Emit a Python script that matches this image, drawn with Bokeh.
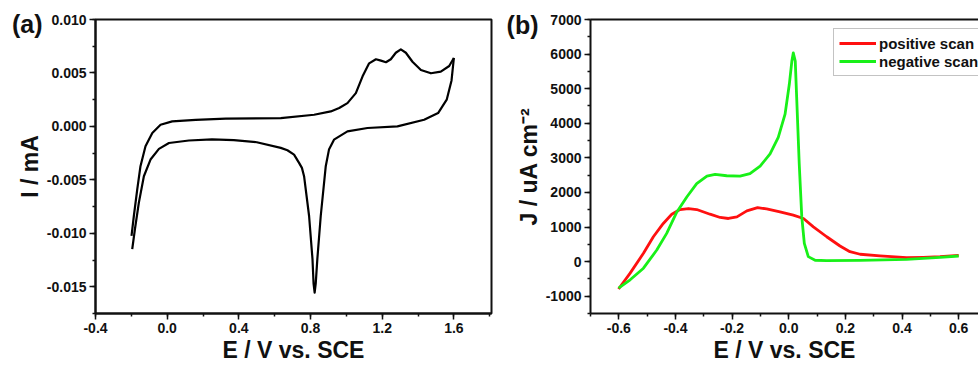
from bokeh.plotting import figure
from bokeh.layouts import row
from bokeh.models import (Range1d, FixedTicker, NumeralTickFormatter, Legend,
                          LegendItem, LinearAxis, CustomJSTickFormatter)
from bokeh.embed import file_html
from bokeh.resources import INLINE

# ---------------- data: panel (a) CV loop ----------------
a_fwd_E = [-0.199, -0.186, -0.167, -0.149, -0.121, -0.083, -0.037, 0.028, 0.159, 0.327,
           0.634, 0.820, 0.913, 0.960, 1.006, 1.053, 1.090, 1.127, 1.165, 1.193, 1.221,
           1.248, 1.276, 1.304, 1.332, 1.369, 1.416, 1.472, 1.527, 1.574, 1.600]
a_fwd_I = [-0.01024, -0.00838, -0.00589, -0.00372, -0.00186, -0.00061, 0.00016, 0.00047, 0.00062, 0.00072,
           0.00078, 0.00109, 0.0014, 0.00172, 0.00218, 0.00311, 0.00466, 0.0059, 0.00628, 0.00615, 0.006,
           0.00628, 0.00689, 0.00721, 0.00689, 0.00605, 0.00528, 0.00497, 0.00512, 0.00565, 0.0064]
a_rev_E = [1.600, 1.587, 1.560, 1.512, 1.434, 1.285, 1.118, 1.006, 0.931, 0.903, 0.885, 0.857,
           0.838, 0.829, 0.823, 0.817, 0.811, 0.792, 0.764, 0.752, 0.736, 0.708, 0.671, 0.634,
           0.500, 0.372, 0.250, 0.121, 0.010, -0.046, -0.093, -0.130, -0.158, -0.180, -0.195]
a_rev_I = [0.0064, 0.0043, 0.0025, 0.00125, 0.00062, 0.0, -0.00015, -0.00047, -0.00124, -0.00217, -0.00372, -0.00838,
           -0.01241, -0.0147, -0.01555, -0.0147, -0.01241, -0.00838, -0.00466, -0.00388, -0.00341, -0.00264, -0.00223, -0.00201,
           -0.00148, -0.00128, -0.00122, -0.00132, -0.00155, -0.0021, -0.0031, -0.00466, -0.00713, -0.00962, -0.01148]

# ---------------- data: panel (b) ----------------
pos_E = [-0.601, -0.560, -0.513, -0.478, -0.443, -0.413, -0.384, -0.354, -0.325, -0.278, -0.242,
         -0.213, -0.183, -0.148, -0.110, -0.078, -0.031, 0.016, 0.052, 0.087, 0.134, 0.181,
         0.216, 0.252, 0.322, 0.416, 0.475, 0.534, 0.600]
pos_J = [-793, -333, 241, 719, 1104, 1371, 1506, 1535, 1506, 1371, 1276,
         1247, 1293, 1466, 1560, 1523, 1437, 1342, 1247, 1006, 719, 451,
         287, 213, 164, 115, 125, 144, 182]
neg_E = [-0.601, -0.560, -0.513, -0.466, -0.431, -0.395, -0.360, -0.325, -0.289, -0.260, -0.219,
         -0.172, -0.137, -0.101, -0.066, -0.037, -0.013, 0.002, 0.011, 0.016, 0.023, 0.028,
         0.037, 0.046, 0.055, 0.069, 0.093, 0.134, 0.252, 0.416, 0.534, 0.600]
neg_J = [-765, -526, -190, 336, 816, 1437, 1868, 2253, 2472, 2520, 2483,
         2472, 2541, 2760, 3115, 3593, 4265, 5127, 5797, 6035, 5797, 4742,
         2828, 1293, 529, 144, 40, 30, 35, 67, 125, 163]

a_xticks = [-0.4, 0.0, 0.4, 0.8, 1.2, 1.6]
a_yticks = [-0.015, -0.010, -0.005, 0.0, 0.005, 0.010]
b_xticks = [-0.6, -0.4, -0.2, 0.0, 0.2, 0.4, 0.6]
b_yticks = [-1000, 0, 1000, 2000, 3000, 4000, 5000, 6000, 7000]
legend_labels = ["positive scan", "negative scan"]
panel_tags = ["(a)", "(b)"]

FONT = "Liberation Sans"
INK = "#111111"


def style_axis(ax, major, minor, fmt):
    ax.ticker = FixedTicker(ticks=major, minor_ticks=minor)
    ax.formatter = NumeralTickFormatter(format=fmt)
    ax.axis_line_width = 2
    ax.axis_line_color = INK
    ax.major_tick_line_width = 1.5
    ax.minor_tick_line_width = 1.5
    ax.major_tick_line_color = INK
    ax.minor_tick_line_color = INK
    ax.major_tick_in = 0
    ax.major_tick_out = 6
    ax.minor_tick_in = 0
    ax.minor_tick_out = 3
    ax.major_label_text_font = FONT
    ax.major_label_text_font_style = "bold"
    ax.major_label_text_font_size = "14px"
    ax.major_label_text_color = INK
    ax.major_label_standoff = 3
    ax.axis_label_text_font = FONT
    ax.axis_label_text_font_style = "bold"
    ax.axis_label_text_font_size = "23px"
    ax.axis_label_text_color = INK
    ax.axis_label_standoff = 1


def tag_axis(tag, at, standoff):
    # an outer, line-less left axis whose single tick label is the panel tag
    return LinearAxis(ticker=FixedTicker(ticks=[at], minor_ticks=[]),
                      formatter=CustomJSTickFormatter(code='return "%s"' % tag),
                      axis_line_color=None, major_tick_line_color=None,
                      minor_tick_line_color=None, major_tick_in=0, major_tick_out=0,
                      minor_tick_in=0, minor_tick_out=0, major_label_standoff=standoff,
                      major_label_text_font=FONT, major_label_text_font_style="bold",
                      major_label_text_font_size="25px", major_label_text_color=INK)


# ---------------- panel (a) ----------------
pa = figure(width=500, height=365, output_backend="svg", toolbar_location=None,
            x_range=Range1d(-0.4, 1.81), y_range=Range1d(-0.0175, 0.010),
            min_border_left=95, min_border_right=9, min_border_top=19, min_border_bottom=51)
pa.grid.visible = False
pa.outline_line_color = INK
pa.outline_line_width = 2
pa.background_fill_color = "white"
pa.border_fill_color = "white"
pa.line(a_fwd_E, a_fwd_I, line_color="black", line_width=2.2, line_join="round")
pa.line(a_rev_E, a_rev_I, line_color="black", line_width=2.2, line_join="round")
style_axis(pa.below[0], a_xticks, [round(-0.4 + 0.2 * i, 2) for i in range(12)], "0.0")
style_axis(pa.left[0], a_yticks, [round(-0.0175 + 0.0025 * i, 4) for i in range(12)], "0.000")
pa.below[0].axis_label = "E / V vs. SCE"
pa.left[0].axis_label = "I / mA"
pa.add_layout(tag_axis(panel_tags[0], 0.0096, -29), "left")

# ---------------- panel (b) ----------------
pb = figure(width=478, height=365, output_backend="svg", toolbar_location=None,
            x_range=Range1d(-0.7, 0.67), y_range=Range1d(-1500, 7000),
            min_border_left=90, min_border_right=0, min_border_top=18, min_border_bottom=51)
pb.grid.visible = False
pb.outline_line_color = None
pb.background_fill_color = "white"
pb.border_fill_color = "white"
r_pos = pb.line(pos_E, pos_J, line_color="#ff1010", line_width=2.8, line_join="round")
r_neg = pb.line(neg_E, neg_J, line_color="#18f018", line_width=2.8, line_join="round")
style_axis(pb.below[0], b_xticks, [round(-0.7 + 0.1 * i, 2) for i in range(14)], "0.0")
style_axis(pb.left[0], b_yticks, [-1500 + 500 * i for i in range(18)], "0")
pb.below[0].axis_label = "E / V vs. SCE"
pb.left[0].axis_label = "J / uA cm\u207b\u00b2"
top = LinearAxis(ticker=FixedTicker(ticks=[], minor_ticks=[]),
                 major_tick_in=0, major_tick_out=0, minor_tick_in=0, minor_tick_out=0,
                 major_label_standoff=0, axis_line_width=2, axis_line_color=INK)
pb.add_layout(top, "above")
pb.add_layout(tag_axis(panel_tags[1], 6850, -26), "left")

legend = Legend(items=[LegendItem(label=legend_labels[0], renderers=[r_pos]),
                       LegendItem(label=legend_labels[1], renderers=[r_neg])],
                location=(243, 237), orientation="vertical",
                label_text_font=FONT, label_text_font_style="bold", label_text_font_size="15px",
                label_text_color=INK, label_standoff=3, label_height=18, glyph_height=18,
                glyph_width=37, spacing=0, padding=5, margin=0,
                border_line_color="#888888", border_line_width=1.2,
                background_fill_color="white", background_fill_alpha=1.0)
pb.add_layout(legend)

layout = row(pa, pb)
open("out.html", "w").write(file_html(layout, INLINE))
